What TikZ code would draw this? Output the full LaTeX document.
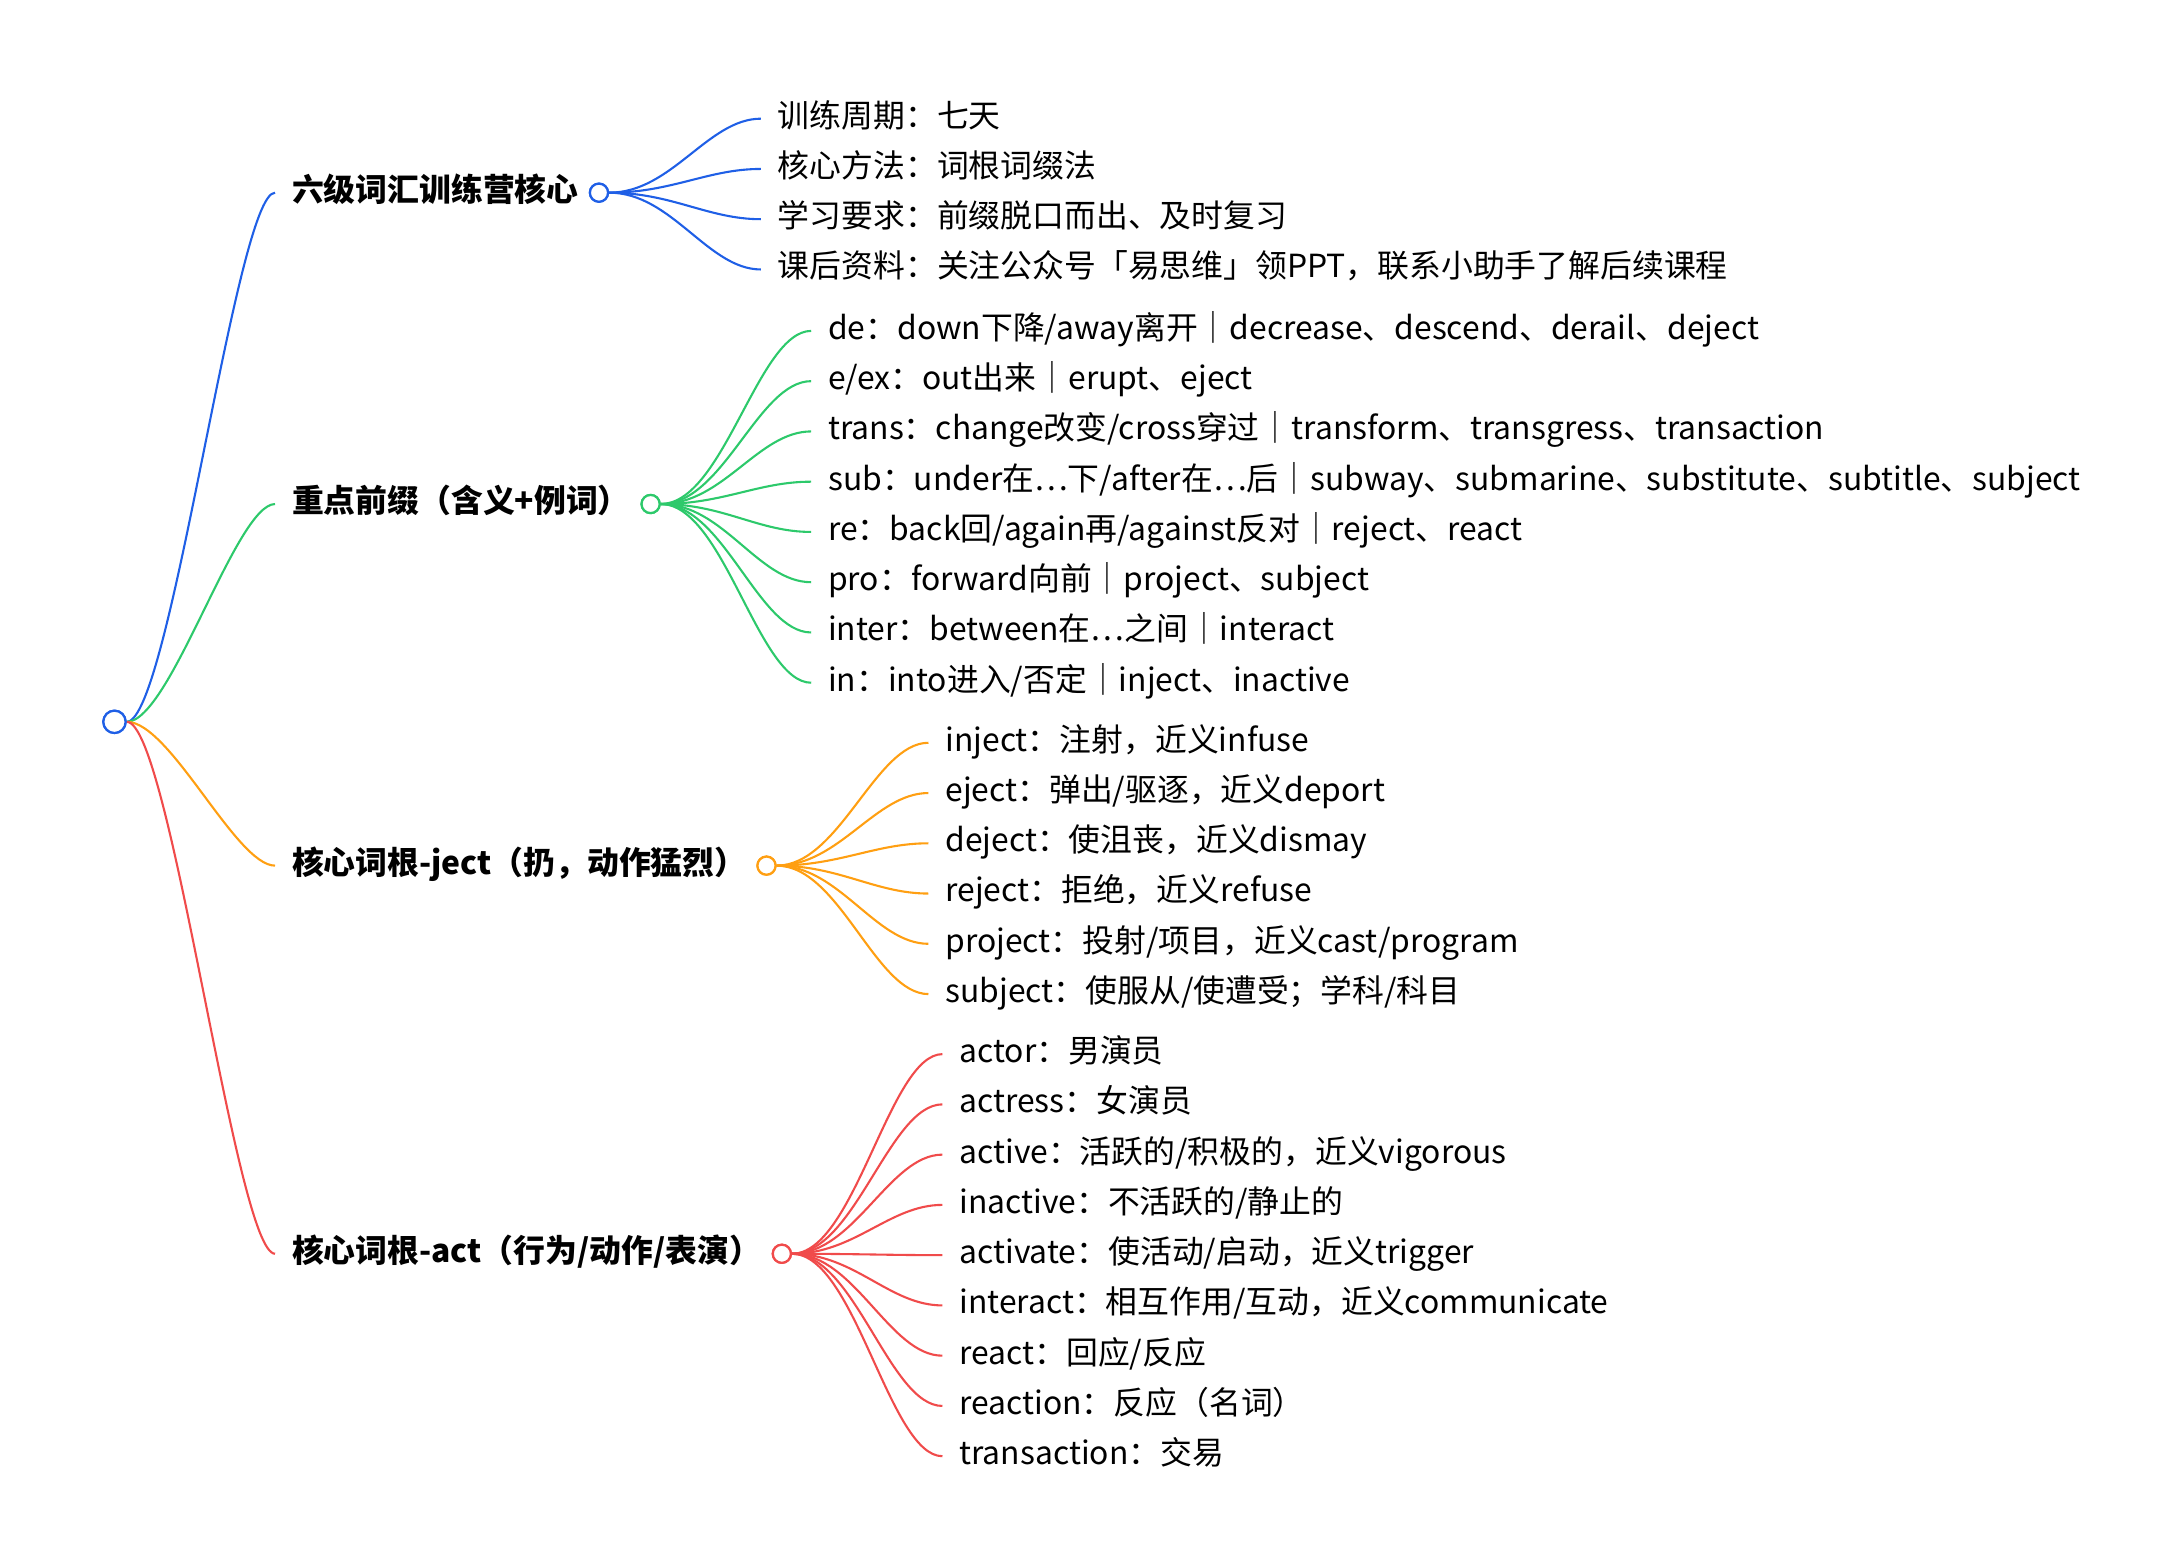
\documentclass[tikz,border=0pt]{standalone}
\usepackage{fontspec}
\setmainfont{Noto Sans CJK SC}
\begin{document}
\begin{tikzpicture}[x=1pt,y=-1pt,
  leaf/.style={anchor=west,inner sep=0pt,text height=17pt,text depth=5pt,font=\fontsize{22.8}{25}\selectfont},
  mainl/.style={anchor=west,inner sep=0pt,text height=17pt,text depth=5pt,font=\fontsize{22.8}{25}\selectfont\bfseries},
  dot/.style={circle,draw=#1,line width=1.6pt,fill=white,minimum size=13pt,inner sep=0pt},
  con/.style={draw=#1,line width=1.5pt}]
\definecolor{cb}{HTML}{1F5FE6}
\definecolor{cg}{HTML}{2DC96B}
\definecolor{co}{HTML}{FF9F12}
\definecolor{cr}{HTML}{F04B4B}
\useasboundingbox (0,0) rectangle (1560,1120);
\node[dot=cb,minimum size=16pt] (root) at (82,517) {};
\node[mainl] (m1) at (209,138) {六级词汇训练营核心};
\node[mainl] (m2) at (209,361) {重点前缀（含义+例词）};
\node[mainl] (m3) at (209,620) {核心词根-ject（扔，动作猛烈）};
\node[mainl] (m4) at (209,898) {核心词根-act（行为/动作/表演）};
\node[dot=cb] (d1) at (429,138) {};
\node[dot=cg] (d2) at (466,361) {};
\node[dot=co] (d3) at (549,620) {};
\node[dot=cr] (d4) at (560,898) {};
\foreach \m/\c in {m1/cb,m2/cg,m3/co,m4/cr}{
  \draw[con=\c] (root) .. controls +(40,0) and ([xshift=-40]\m.west) .. ([xshift=-12]\m.west);
}
\foreach \t [count=\i] in {训练周期：七天,核心方法：词根词缀法,学习要求：前缀脱口而出、及时复习,课后资料：关注公众号「易思维」领PPT，联系小助手了解后续课程}{
  \node[leaf] (b\i) at (557,{85+36*(\i-1)}) {\t};
  \draw[con=cb] (d1.east) .. controls +(45,0) and ([xshift=-50]b\i.west) .. ([xshift=-12]b\i.west);
}
\foreach \t [count=\i] in {de：down下降/away离开｜decrease、descend、derail、deject,e/ex：out出来｜erupt、eject,trans：change改变/cross穿过｜transform、transgress、transaction,sub：under在⋯下/after在⋯后｜subway、submarine、substitute、subtitle、subject,re：back回/again再/against反对｜reject、react,pro：forward向前｜project、subject,inter：between在⋯之间｜interact,in：into进入/否定｜inject、inactive}{
  \node[leaf] (g\i) at (593,{237+36*(\i-1)}) {\t};
  \draw[con=cg] (d2.east) .. controls +(45,0) and ([xshift=-50]g\i.west) .. ([xshift=-12]g\i.west);
}
\foreach \t [count=\i] in {inject：注射，近义infuse,eject：弹出/驱逐，近义deport,deject：使沮丧，近义dismay,reject：拒绝，近义refuse,project：投射/项目，近义cast/program,subject：使服从/使遭受；学科/科目}{
  \node[leaf] (o\i) at (677,{532+36*(\i-1)}) {\t};
  \draw[con=co] (d3.east) .. controls +(45,0) and ([xshift=-50]o\i.west) .. ([xshift=-12]o\i.west);
}
\foreach \t [count=\i] in {actor：男演员,actress：女演员,active：活跃的/积极的，近义vigorous,inactive：不活跃的/静止的,activate：使活动/启动，近义trigger,interact：相互作用/互动，近义communicate,react：回应/反应,reaction：反应（名词）,transaction：交易}{
  \node[leaf] (r\i) at (687,{755+36*(\i-1)}) {\t};
  \draw[con=cr] (d4.east) .. controls +(45,0) and ([xshift=-50]r\i.west) .. ([xshift=-12]r\i.west);
}
\foreach \d/\c in {d1/cb,d2/cg,d3/co,d4/cr}{\node[dot=\c] at (\d) {};}
\node[dot=cb,minimum size=16pt] at (root) {};
\end{tikzpicture}
\end{document}
